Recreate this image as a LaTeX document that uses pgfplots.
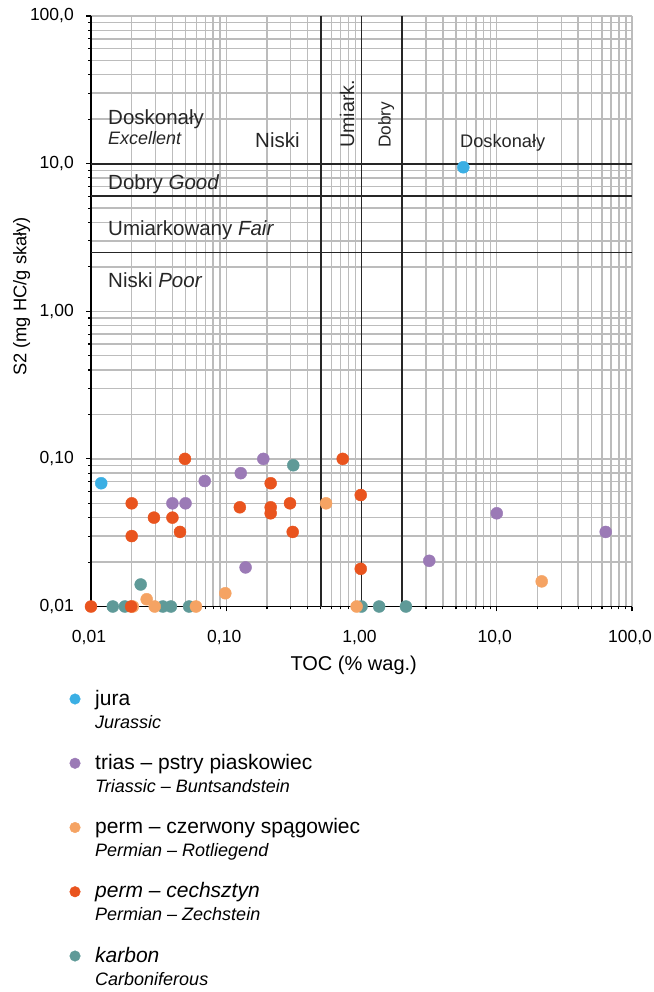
\documentclass[border=0pt]{standalone}
\usepackage{fontspec}
\setmainfont{Liberation Sans}
\usepackage{pgfplots}
\pgfplotsset{compat=1.18}
\definecolor{cjura}{RGB}{59,175,228}
\definecolor{ctrias}{RGB}{155,122,182}
\definecolor{crot}{RGB}{245,163,99}
\definecolor{czech}{RGB}{233,84,30}
\definecolor{ckarb}{RGB}{95,154,152}
\definecolor{gridc}{RGB}{188,188,188}
\definecolor{thr}{RGB}{38,38,38}
\newcommand{\fs}[1]{\fontsize{#1}{#1}\selectfont}
\begin{document}
\begin{tikzpicture}
\begin{axis}[
  at={(91pt,-606.5pt)}, anchor=south west,
  width=541pt, height=590.5pt, scale only axis,
  xmode=log, ymode=log,
  xmin=0.01, xmax=100, ymin=0.01, ymax=100,
  axis x line*=bottom, axis y line*=left,
  axis line style={-, black, line width=1.3pt},
  xtick={0.01,0.1,1,10,100},
  xticklabels={{0,01},{0,10},{1,00},{10,0},{100,0}},
  ytick={0.01,0.1,1,10,100},
  yticklabels={{0,01},{0,10},{1,00},{10,0},{100,0}},
  minor xtick={0.02,0.03,0.04,0.05,0.06,0.07,0.08,0.09,0.2,0.3,0.4,0.5,0.6,0.7,0.8,0.9,2,3,4,5,6,7,8,9,20,30,40,50,60,70,80,90},
  minor ytick={0.02,0.03,0.04,0.05,0.06,0.07,0.08,0.09,0.2,0.3,0.4,0.5,0.6,0.7,0.8,0.9,2,3,4,5,6,7,8,9,20,30,40,50,60,70,80,90},
  grid=both,
  major grid style={gridc, line width=1.4pt},
  minor grid style={gridc, line width=1.4pt},
  tick align=outside, major tick length=5pt, minor tick length=3pt,
  every tick/.style={black, line width=1.1pt},
  tick label style={font=\fontsize{17.5}{20}\selectfont},
  yticklabel style={anchor=east, inner sep=0pt, xshift=-12pt},
  xticklabel style={anchor=base, inner sep=0pt, yshift=-31.5pt, xshift=-2pt},
  xlabel={TOC (\% wag.)},
  xlabel style={font=\fontsize{20}{24}\selectfont, at={(axis description cs:0.4856,-0.1083)}, anchor=base, inner sep=0pt},
  ylabel={S2 (mg HC/g skały)},
  ylabel style={font=\fontsize{18.3}{22}\selectfont, at={(axis description cs:-0.128,0.525)}, anchor=center, rotate=0, inner sep=0pt},
  clip=false,
  legend style={at={(axis description cs:-0.0397,-0.1397)}, anchor=north west,
    draw=none, fill=none, inner sep=0pt, outer sep=0pt,
    row sep=18.25pt, column sep=14.7pt,
    nodes={inner sep=0pt, text depth={}},
    cells={anchor=west},
    font=\fontsize{21}{23}\selectfont},
]
% threshold lines
\addplot[thr, line width=1.9pt, forget plot] coordinates {(0.01,10) (100,10)};
\addplot[thr, line width=1.9pt, forget plot] coordinates {(0.01,6) (100,6)};
\addplot[thr, line width=1.9pt, forget plot] coordinates {(0.01,2.5) (100,2.5)};
\addplot[thr, line width=1.9pt, forget plot] coordinates {(0.5,0.01) (0.5,100)};
\addplot[thr, line width=1.9pt, forget plot] coordinates {(1,0.01) (1,100)};
\addplot[thr, line width=1.9pt, forget plot] coordinates {(2,0.01) (2,100)};
% karbon
\addplot[only marks, mark=*, mark size=6pt, color=ckarb, mark options={draw=ckarb, fill=ckarb}, forget plot] coordinates {
(0.0145,0.01) (0.0178,0.01) (0.0233,0.0141) (0.0340,0.01) (0.039,0.01) (0.0531,0.01)
(0.313,0.0905) (1.0,0.01) (1.35,0.01) (2.13,0.01)};
% perm - czerwony spagowiec
\addplot[only marks, mark=*, mark size=6pt, color=crot, mark options={draw=crot, fill=crot}, forget plot] coordinates {
(0.0204,0.01) (0.0258,0.0112) (0.0296,0.01) (0.0597,0.01) (0.0984,0.0123)
(0.547,0.05) (0.92,0.01) (21.5,0.0148)};
% perm - cechsztyn
\addplot[only marks, mark=*, mark size=6pt, color=czech, mark options={draw=czech, fill=czech}, forget plot] coordinates {
(0.01,0.01) (0.0198,0.01) (0.02,0.05) (0.02,0.03) (0.0292,0.04) (0.04,0.04) (0.0455,0.032)
(0.0495,0.1) (0.126,0.047) (0.213,0.0684) (0.213,0.047) (0.213,0.0428) (0.296,0.05)
(0.31,0.032) (0.726,0.1) (0.987,0.0569) (0.987,0.018)};
% trias
\addplot[only marks, mark=*, mark size=6pt, color=ctrias, mark options={draw=ctrias, fill=ctrias}, forget plot] coordinates {
(0.04,0.05) (0.05,0.05) (0.0693,0.0708) (0.128,0.08) (0.188,0.1) (0.139,0.0184)
(3.17,0.0204) (10.0,0.0428) (63.9,0.032)};
% jura
\addplot[only marks, mark=*, mark size=6pt, color=cjura, mark options={draw=cjura, fill=cjura}, forget plot] coordinates {
(0.0119,0.0684) (5.66,9.45)};
% legend
\addlegendimage{legend image code/.code={\fill[cjura] (0pt,13pt) circle (5.3pt);}}
\addlegendentry{\begin{tabular}{@{}l@{}}jura\\{\fontsize{18}{18}\selectfont\itshape Jurassic}\end{tabular}}
\addlegendimage{legend image code/.code={\fill[ctrias] (0pt,13pt) circle (5.3pt);}}
\addlegendentry{\begin{tabular}{@{}l@{}}trias – pstry piaskowiec\\{\fontsize{18}{18}\selectfont\itshape Triassic – Buntsandstein}\end{tabular}}
\addlegendimage{legend image code/.code={\fill[crot] (0pt,13pt) circle (5.3pt);}}
\addlegendentry{\begin{tabular}{@{}l@{}}perm – czerwony spągowiec\\{\fontsize{18}{18}\selectfont\itshape Permian – Rotliegend}\end{tabular}}
\addlegendimage{legend image code/.code={\fill[czech] (0pt,13pt) circle (5.3pt);}}
\addlegendentry{\begin{tabular}{@{}l@{}}\itshape perm – cechsztyn\\{\fontsize{18}{18}\selectfont\itshape Permian – Zechstein}\end{tabular}}
\addlegendimage{legend image code/.code={\fill[ckarb] (0pt,13pt) circle (5.3pt);}}
\addlegendentry{\begin{tabular}{@{}l@{}}\itshape karbon\\{\fontsize{18}{18}\selectfont\itshape Carboniferous}\end{tabular}}
\end{axis}
% annotations (text)
\begin{scope}[every node/.style={inner sep=0pt, text=black!85}]
\node[anchor=base west, font=\fs{20.5}] at (108pt,-125pt) {Doskonały};
\node[anchor=base west, font=\fs{18}\itshape] at (108pt,-145pt) {Excellent};
\node[anchor=base west, font=\fs{20.5}] at (255pt,-147.7pt) {Niski};
\node[anchor=base west, font=\fs{19.7}, rotate=90] at (354pt,-148pt) {Umiark.};
\node[anchor=base west, font=\fs{17.2}, rotate=90] at (390.5pt,-148pt) {Dobry};
\node[anchor=base west, font=\fs{18.2}] at (460pt,-148pt) {Doskonały};
\node[anchor=base west, font=\fs{20.5}] at (108pt,-190pt) {Dobry {\itshape Good}};
\node[anchor=base west, font=\fs{20.5}] at (108pt,-235.3pt) {Umiarkowany {\itshape Fair}};
\node[anchor=base west, font=\fs{20.5}] at (108pt,-287pt) {Niski {\itshape Poor}};
\end{scope}
\pgfresetboundingbox
\path[use as bounding box] (0pt,0pt) rectangle (653pt,-992pt);
\end{tikzpicture}
\end{document}
